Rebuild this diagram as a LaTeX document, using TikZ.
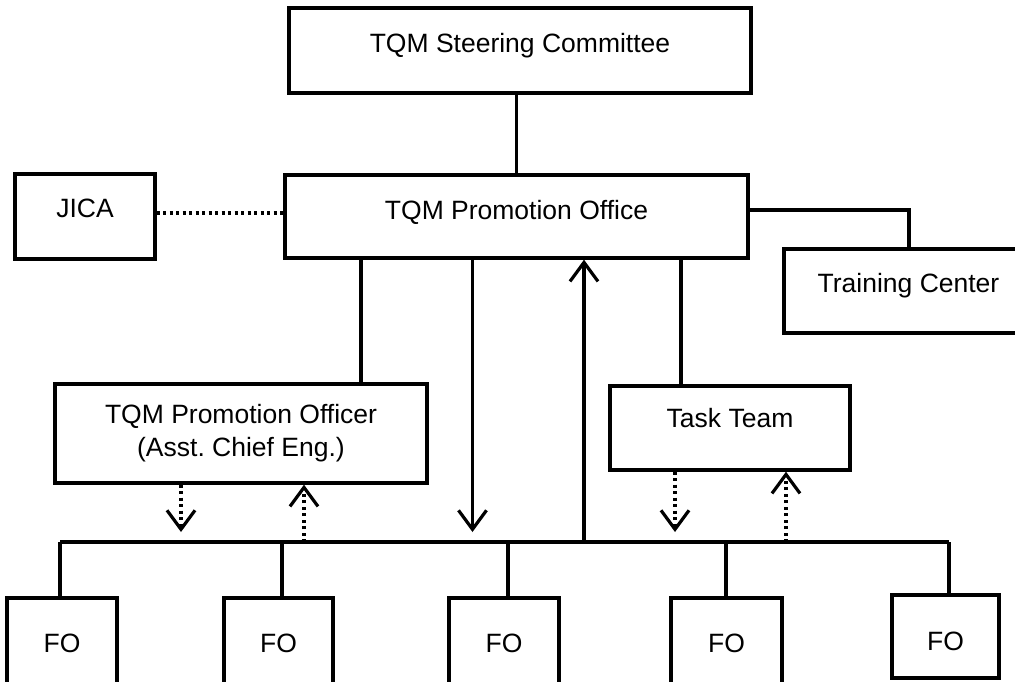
\documentclass[tikz,border=0pt]{standalone}
\usepackage{fontspec}
\setmainfont{Liberation Sans}
\usetikzlibrary{arrows.meta}
\begin{document}
\begin{tikzpicture}[x=1pt,y=-1pt,
  box/.style={draw, line width=3.4pt, inner sep=0pt, font=\fontsize{26.5}{33}\selectfont},
  txtlift/.style={text height=19pt, text depth=#1},
  wire/.style={line width=3.2pt},
  dotline/.style={line width=3.2pt, dash pattern=on 3pt off 3.5pt},
  vtip/.style={-{Straight Barb[length=19pt,width=28pt,line width=3.2pt]}}
]
\useasboundingbox (0,0) rectangle (1015,681);
\clip (0,0) rectangle (1015,681);

% boxes
\node[box, txtlift=15pt, minimum width=462pt, minimum height=85pt] (steer) at (520,50.5) {TQM Steering Committee};
\node[box, txtlift=13pt, minimum width=463pt, minimum height=83pt] (office) at (516.5,216.5) {TQM Promotion Office};
\node[box, txtlift=18pt, minimum width=140pt, minimum height=85pt] (jica) at (85,216.5) {JICA};
\node[box, txtlift=16pt, minimum width=249pt, minimum height=84pt] (train) at (908.5,291) {Training Center};
\node[box, align=center, minimum width=372pt, minimum height=99pt] (po) at (241,433.5) {TQM Promotion Officer\\(Asst.\ Chief Eng.)};
\node[box, txtlift=20pt, minimum width=240pt, minimum height=84pt] (tt) at (730,428) {Task Team};

\node[box, txtlift=0pt, minimum width=110pt, minimum height=90pt] (fo1) at (62,643) {FO};
\node[box, txtlift=0pt, minimum width=109pt, minimum height=90pt] (fo2) at (278.5,643) {FO};
\node[box, txtlift=0pt, minimum width=110pt, minimum height=90pt] (fo3) at (504,643) {FO};
\node[box, txtlift=0pt, minimum width=111pt, minimum height=90pt] (fo4) at (726.5,643) {FO};
\node[box, text height=28pt, text depth=0pt, minimum width=107pt, minimum height=83pt] (fo5) at (945.5,636.5) {FO};

% reference positions for connectors
\coordinate (jy) at (0,213);
\coordinate (ty) at (0,210);
\coordinate (tx) at (909,0);
\coordinate (xa) at (361,0);
\coordinate (xdn) at (472.5,0);
\coordinate (xup) at (584,0);
\coordinate (xb) at (681,0);
\coordinate (xd1) at (181,0);
\coordinate (xu1) at (304,0);
\coordinate (xd2) at (675,0);
\coordinate (xu2) at (786,0);
\coordinate (tipy) at (0,532);
\coordinate (b1) at (60,542);
\coordinate (b2) at (282,542);
\coordinate (b3) at (508,542);
\coordinate (b4) at (726,542);
\coordinate (b5) at (949,542);

% hierarchy lines
\draw[wire] (steer.south -| office.north) -- (office.north);
\draw[dotline] (jica.east |- jy) -- (office.west |- jy);
\draw[wire] (office.east |- ty) -| (train.north -| tx);
\draw[wire] (office.south -| xa) -- (po.north -| xa);
\draw[wire] (office.south -| xb) -- (tt.north -| xb);

% field office bus
\draw[wire] (b1) -- (b5);
\draw[wire] (b1) -- (fo1.north -| b1);
\draw[wire] (b2) -- (fo2.north -| b2);
\draw[wire] (b3) -- (fo3.north -| b3);
\draw[wire] (b4) -- (fo4.north -| b4);
\draw[wire] (b5) -- (fo5.north -| b5);

% flows between office and field offices
\draw[wire, vtip] (office.south -| xdn) -- (xdn |- tipy);
\draw[wire, vtip] (b1 -| xup) -- (office.south -| xup);
\draw[dotline, vtip] (po.south -| xd1) -- (xd1 |- tipy);
\draw[dotline, vtip] (b1 -| xu1) -- (po.south -| xu1);
\draw[dotline, vtip] (tt.south -| xd2) -- (xd2 |- tipy);
\draw[dotline, vtip] (b1 -| xu2) -- (tt.south -| xu2);
\end{tikzpicture}
\end{document}
